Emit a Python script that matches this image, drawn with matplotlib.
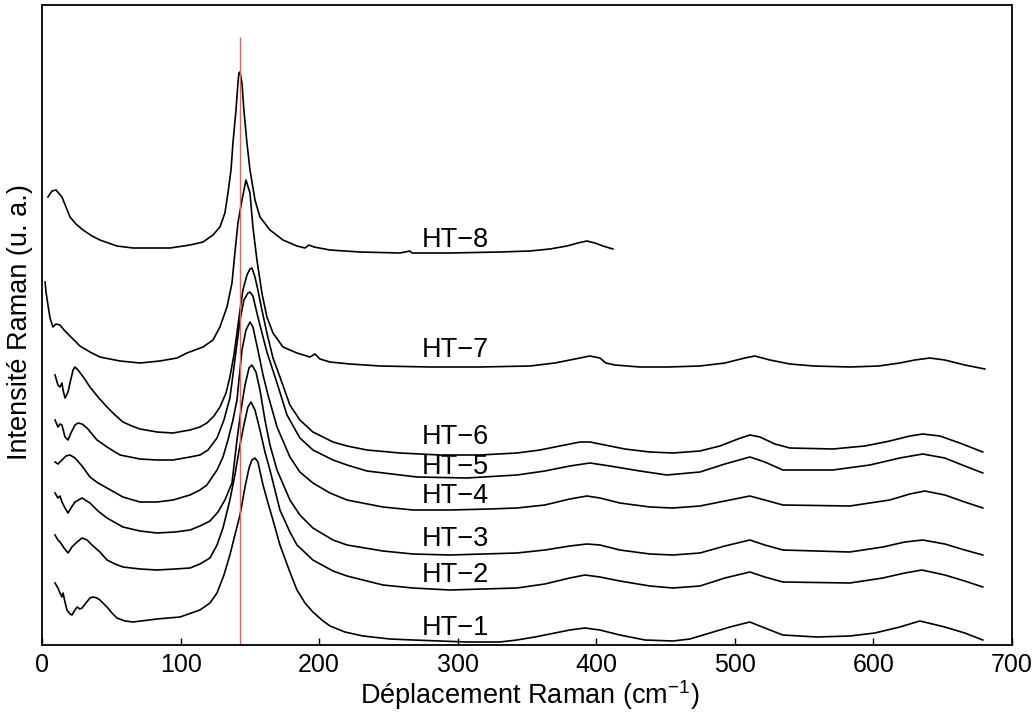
import matplotlib
matplotlib.use("Agg")
import matplotlib.pyplot as plt

plt.rcParams['font.family'] = ['Liberation Sans', 'DejaVu Sans']
plt.rcParams['mathtext.default'] = 'regular'

# Raman shift (cm-1) and intensity (arbitrary units, stacked)
x_ht8 = [4.3, 7.2, 10.1, 14.4, 17.3, 20.2, 24.5, 29.6, 36.1, 41.8, 54.1, 65.7, 77.9, 92.4,
         106.8, 116.2, 123.4, 128.4, 132.0, 134.2, 136.4, 137.8, 140.0, 141.4, 142.1, 142.9,
         144.3, 145.7, 147.9, 150.1, 153.7, 157.3, 164.5, 173.9, 184.0, 189.8, 192.6, 196.3,
         207.8, 229.4, 258.3, 265.5, 267.0, 294.4, 330.4, 352.1, 366.5, 378.8, 386.7, 393.2,
         399.0, 404.8, 412.0]
y_ht8 = [448, 454, 455, 448, 438, 428, 421, 415, 409, 405, 399, 397, 397, 397,
         400, 403, 410, 418, 432, 452, 475, 502, 535, 562, 572, 573,
         562, 535, 502, 475, 445, 428, 415, 405, 399, 397, 400, 398,
         395, 393, 392, 394, 392, 392, 393, 394, 396, 399, 402, 404,
         402, 399, 396]

x_ht7 = [2.2, 2.9, 4.3, 5.8, 7.9, 10.1, 13.0, 15.9, 20.2, 27.4, 34.6, 41.8, 56.3, 70.7,
         85.1, 97.4, 104.6, 116.2, 123.4, 128.4, 133.5, 137.1, 139.2, 141.4, 144.3, 147.2,
         150.1, 152.2, 155.1, 158.7, 162.3, 166.7, 173.9, 184.0, 193.4, 197.0, 200.6, 207.8,
         222.2, 243.9, 280.0, 316.0, 352.1, 370.1, 384.6, 395.4, 402.6, 406.9, 413.4, 431.5,
         451.7, 474.8, 492.8, 507.2, 514.4, 525.3, 539.7, 557.0, 583.0, 603.9, 619.0, 629.9,
         640.7, 651.5, 665.9, 680.4]
y_ht7 = [363, 353, 340, 327, 318, 321, 320, 315, 309, 299, 293, 288, 284, 282,
         284, 287, 292, 298, 305, 318, 338, 362, 392, 422, 445, 465,
         452, 418, 385, 352, 328, 312, 298, 292, 288, 291, 286, 283,
         281, 279, 278, 278, 279, 282, 286, 289, 287, 282, 280, 278,
         278, 279, 282, 287, 289, 285, 281, 279, 278, 279, 282, 285,
         287, 285, 280, 276]

x_ht6 = [9.4, 11.5, 13.0, 14.4, 15.2, 16.6, 18.8, 20.2, 22.4, 23.8, 26.0, 30.3, 34.6, 40.4,
         46.9, 52.7, 58.4, 64.9, 70.7, 83.0, 94.5, 106.8, 114.0, 119.0, 124.1, 128.4, 132.8,
         135.6, 138.5, 140.7, 142.9, 145.0, 147.9, 150.1, 151.5, 153.7, 155.8, 158.7, 162.3,
         166.7, 171.7, 178.9, 186.1, 195.5, 210.0, 220.1, 234.5, 258.3, 287.2, 316.0, 342.7,
         359.3, 373.7, 388.2, 395.4, 406.2, 420.6, 438.7, 455.3, 474.8, 489.2, 502.2, 510.8,
         518.1, 528.9, 539.7, 570.7, 593.8, 611.8, 626.3, 635.6, 647.9, 662.3, 678.9]
y_ht6 = [270, 260, 258, 262, 255, 247, 253, 262, 275, 278, 275, 267, 258, 248,
         238, 230, 223, 219, 216, 213, 212, 215, 218, 222, 229, 238, 252,
         268, 290, 312, 335, 355, 370, 376, 377, 368, 355, 335, 312,
         287, 268, 240, 225, 213, 203, 199, 195, 192, 190, 190, 192,
         195, 199, 203, 203, 200, 196, 193, 192, 194, 199, 206, 210,
         208, 201, 197, 196, 199, 204, 209, 211, 209, 202, 193]

x_ht5 = [9.4, 11.5, 13.0, 14.4, 16.6, 18.8, 20.9, 23.8, 26.0, 28.9, 32.5, 36.1, 39.7, 46.9,
         56.3, 70.7, 83.0, 94.5, 106.8, 114.0, 119.8, 126.3, 131.3, 135.6, 139.2, 142.9,
         145.7, 148.6, 150.1, 152.2, 155.8, 159.5, 162.3, 169.6, 176.8, 186.1, 195.5, 210.0,
         220.1, 234.5, 270.6, 306.6, 342.7, 362.9, 380.9, 395.4, 409.8, 431.5, 450.9, 474.8,
         492.8, 510.8, 521.6, 534.6, 570.7, 597.4, 619.0, 635.6, 651.5, 665.9, 678.9]
y_ht5 = [225, 218, 221, 220, 208, 205, 212, 220, 222, 221, 217, 211, 205, 198,
         190, 186, 185, 185, 188, 190, 195, 207, 225, 247, 285, 325,
         345, 352, 353, 349, 328, 308, 293, 262, 230, 207, 195, 185,
         180, 174, 168, 167, 170, 174, 179, 182, 179, 174, 170, 173,
         181, 188, 183, 175, 175, 180, 187, 191, 187, 179, 172]

x_ht4 = [9.4, 11.5, 14.4, 17.3, 20.2, 23.8, 28.9, 34.6, 40.4, 46.9, 58.4, 70.7, 83.0, 94.5,
         106.8, 114.0, 119.0, 126.3, 130.6, 134.2, 137.8, 140.7, 144.3, 147.2, 150.1, 152.2,
         155.8, 159.5, 163.1, 169.6, 178.9, 186.1, 195.5, 207.8, 220.1, 246.0, 267.7, 294.4,
         323.2, 342.7, 362.9, 380.9, 393.2, 402.6, 417.0, 438.7, 455.3, 474.8, 492.8, 510.8,
         521.6, 534.6, 583.0, 611.8, 626.3, 637.1, 651.5, 665.9, 678.9]
y_ht4 = [183, 181, 185, 189, 190, 187, 179, 168, 162, 157, 148, 143, 143, 145,
         150, 155, 160, 175, 188, 205, 225, 245, 295, 315, 323, 318,
         295, 270, 250, 218, 188, 173, 162, 152, 145, 138, 135, 135,
         136, 137, 140, 146, 149, 147, 142, 138, 137, 139, 144, 149,
         145, 140, 139, 145, 151, 154, 150, 143, 137]

x_ht3 = [9.4, 11.5, 13.0, 14.4, 16.6, 18.8, 20.9, 23.8, 28.9, 34.6, 40.4, 46.9, 58.4, 70.7,
         83.0, 96.0, 106.8, 114.0, 121.2, 127.0, 132.0, 137.1, 140.7, 143.6, 146.5, 149.4,
         151.5, 154.4, 157.3, 160.9, 164.5, 169.6, 178.9, 186.1, 195.5, 210.0, 220.1, 246.0,
         267.7, 294.4, 342.7, 362.9, 380.9, 393.2, 402.6, 417.0, 438.7, 455.3, 474.8, 492.8,
         510.8, 521.6, 534.6, 583.0, 606.8, 622.7, 635.6, 651.5, 665.9, 678.9]
y_ht3 = [152, 147, 149, 143, 137, 132, 137, 143, 147, 142, 134, 127, 118, 114,
         112, 113, 115, 119, 124, 133, 145, 162, 205, 235, 260, 277,
         280, 273, 255, 225, 200, 175, 145, 130, 117, 105, 100, 94,
         91, 90, 92, 95, 99, 101, 100, 95, 91, 90, 92, 99,
         105, 100, 95, 93, 98, 103, 105, 101, 95, 90]

x_ht2 = [9.4, 11.5, 13.0, 15.9, 18.8, 21.6, 25.3, 28.9, 32.5, 36.1, 41.8, 46.9, 52.7, 58.4,
         70.7, 83.0, 96.0, 106.8, 114.0, 121.2, 126.3, 130.6, 135.6, 139.2, 142.9, 145.7,
         148.6, 150.8, 153.7, 157.3, 160.9, 164.5, 171.7, 178.9, 184.0, 195.5, 210.0, 220.1,
         246.0, 267.7, 294.4, 342.7, 362.9, 380.9, 391.8, 402.6, 417.0, 438.7, 455.3, 474.8,
         492.8, 510.8, 521.6, 534.6, 583.0, 606.8, 622.7, 634.9, 651.5, 665.9, 678.9]
y_ht2 = [110, 105, 103, 97, 92, 98, 103, 107, 105, 100, 93, 85, 81, 78,
         76, 75, 76, 77, 81, 87, 100, 117, 145, 170, 200, 220,
         238, 243, 235, 215, 193, 175, 135, 113, 100, 85, 74, 69,
         60, 57, 55, 57, 61, 67, 70, 68, 64, 59, 57, 59,
         67, 73, 68, 63, 62, 67, 72, 75, 70, 64, 58]

x_ht1 = [9.4, 11.5, 13.0, 14.4, 15.2, 16.6, 18.0, 20.2, 21.6, 23.8, 25.3, 27.4, 28.9, 31.7,
         34.6, 36.8, 39.7, 41.8, 46.9, 50.5, 54.1, 59.9, 65.7, 83.0, 99.6, 114.0, 121.2,
         126.3, 131.3, 135.6, 139.2, 142.9, 146.5, 149.4, 151.5, 153.7, 155.8, 159.5, 163.1,
         168.1, 171.7, 178.9, 184.0, 189.8, 195.5, 202.0, 207.8, 218.6, 231.6, 251.1, 267.7,
         306.6, 330.4, 342.7, 355.7, 366.5, 380.9, 391.8, 402.6, 417.0, 435.1, 455.3, 467.5,
         482.0, 496.4, 510.8, 521.6, 534.6, 559.2, 583.0, 601.0, 619.0, 633.5, 651.5, 665.9,
         678.9]
y_ht1 = [62, 57, 52, 48, 52, 43, 35, 31, 30, 35, 38, 36, 37, 42,
         47, 48, 47, 45, 38, 32, 27, 24, 23, 26, 28, 35, 42,
         52, 70, 90, 110, 130, 158, 177, 185, 187, 183, 160, 142,
         118, 100, 73, 55, 42, 33, 25, 19, 13, 9, 6, 5,
         3, 3, 5, 8, 11, 15, 17, 15, 10, 5, 4, 6,
         12, 18, 23, 17, 10, 8, 9, 12, 18, 24, 18, 12,
         5]

spectra = [(x_ht1, y_ht1), (x_ht2, y_ht2), (x_ht3, y_ht3), (x_ht4, y_ht4),
           (x_ht5, y_ht5), (x_ht6, y_ht6), (x_ht7, y_ht7), (x_ht8, y_ht8)]
names = ["HT−1", "HT−2", "HT−3", "HT−4", "HT−5", "HT−6", "HT−7", "HT−8"]
label_y = [17, 70, 106, 149, 178, 208, 295, 405]
label_x = 274

ref_shift = 143  # red reference line
ref_top = 608

fig = plt.figure(figsize=(10.32, 7.2), dpi=100)
ax = fig.add_axes([42 / 1032, 75 / 720, 970 / 1032, 640 / 720])

for (xs, ys) in spectra:
    ax.plot(xs, ys, color="black", lw=1.2)

ax.vlines(ref_shift, 0, ref_top, color="#f05a5a", lw=1.0)

for name, ly in zip(names, label_y):
    ax.text(label_x, ly, name, fontsize=19.5, ha="left", va="center")

ax.set_xlim(0, 700)
ax.set_ylim(0, 640)
ax.set_xticks([0, 100, 200, 300, 400, 500, 600, 700])
ax.set_yticks([])
ax.tick_params(axis="x", direction="in", length=5, width=1, labelsize=18, pad=6)
for s in ax.spines.values():
    s.set_linewidth(1.3)

fig.text(530 / 1032, 1 - 695 / 720, "Déplacement Raman (cm$^{-1}$)", fontsize=19.5,
         ha="center", va="center")
fig.text(20 / 1032, 1 - 322 / 720, "Intensité Raman (u. a.)", fontsize=19.5,
         ha="center", va="center", rotation=90)

fig.savefig("out.png", dpi=100)
